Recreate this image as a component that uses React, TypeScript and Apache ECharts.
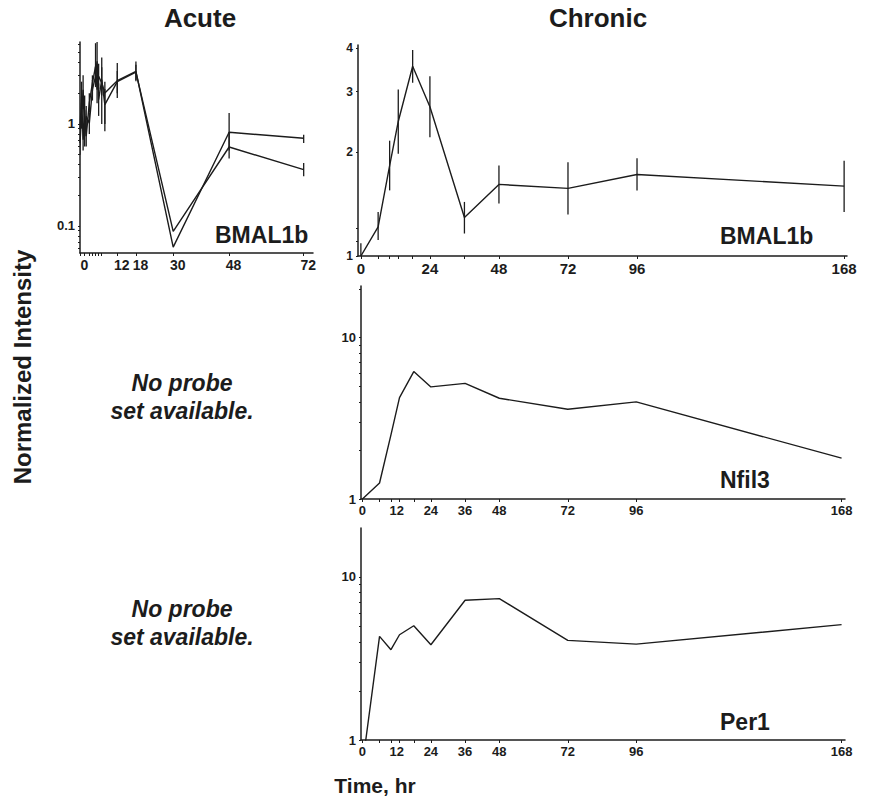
import React, { useEffect, useRef } from 'react';
import * as echarts from 'echarts';

const FONT = '"Liberation Sans", Arial, Helvetica, sans-serif';
const INK = '#1c1c1c';

// ---------- Acute BMAL1b (two probe sets) ----------
const acuteTimes = [0, 0.5, 1, 1.5, 2, 3, 4, 5, 5.5, 6, 7, 8, 12, 18, 30, 48, 72];
const acuteA = [0.88, 1.87, 0.7, 1.38, 0.76, 1.61, 2.52, 3.68, 2.17, 2.93, 2.52, 2.01, 2.66, 3.28, 0.062, 0.83, 0.724];
const acuteALow = [0.62, 1.3, 0.55, 1.0, 0.6, 1.3, 2.1, 3.0, 1.6, 2.2, 1.0, 0.85, 1.8, 2.62, null, 0.55, 0.651];
const acuteAHigh = [1.25, 2.6, 0.9, 1.9, 0.95, 2.0, 3.0, 6.2, 3.0, 3.9, 4.5, 2.6, 3.96, 4.11, null, 1.28, 0.786];
const acuteB = [0.65, 1.19, 2.17, 0.76, 1.19, 1.02, 2.17, 2.93, 4.11, 1.73, 2.72, 1.55, 2.6, 3.22, 0.0886, 0.595, 0.357];
const acuteBLow = [0.5, 0.9, 1.4, 0.6, 0.9, 0.8, 1.7, 2.3, 2.4, 1.2, 1.9, 1.0, 2.0, 2.7, null, 0.46, 0.307];
const acuteBHigh = [0.85, 1.6, 3.0, 0.95, 1.5, 1.3, 2.7, 3.6, 6.5, 2.5, 3.6, 2.2, 3.3, 3.8, null, 0.83, 0.415];
const acuteXLabels = [0, 12, 18, 30, 48, 72];
const acuteXTicks = [0, 1.5, 3, 4, 5, 6, 7, 12, 18, 30, 48, 72];
const acuteYLabels = [0.1, 1];
const acuteYTicks = [0.06, 0.07, 0.08, 0.09, 0.1, 0.2, 0.3, 0.4, 0.5, 0.6, 0.7, 0.8, 0.9, 1, 2, 3, 4, 5, 6];

// ---------- Chronic ----------
const chronicTimes = [0, 6, 10, 13, 18, 24, 36, 48, 72, 96, 168];
const bmalChronic = [1.0, 1.215, 1.83, 2.456, 3.55, 2.71, 1.293, 1.613, 1.571, 1.724, 1.595];
const bmalChronicLow = [0.995, 1.112, 1.55, 1.98, 3.18, 2.21, 1.162, 1.419, 1.319, 1.55, 1.342];
const bmalChronicHigh = [1.088, 1.342, 2.16, 3.04, 3.96, 3.32, 1.435, 1.83, 1.87, 1.92, 1.89];
const nfil3 = [1.0, 1.256, 2.5, 4.25, 6.16, 4.95, 5.21, 4.21, 3.6, 4.0, 1.79];
const per1 = [0.7, 4.32, 3.58, 4.42, 5.02, 3.84, 7.19, 7.36, 4.08, 3.87, 5.1];
const bmalChronicXLabels = [0, 24, 48, 72, 96, 168];
const chronicXLabels = [0, 12, 24, 36, 48, 72, 96, 168];
const bmalChronicYLabels = [1, 2, 3, 4];
const bmalChronicYTicks = [1, 1.1, 1.2, 2, 3, 4];
const decadeYLabels = [1, 10];
const decadeYTicks = [1, 2, 3, 4, 5, 6, 7, 8, 9, 10, 20];

const lg = (v: number) => Math.log10(v);
const fmtLog = (v: number) => String(Number(Math.pow(10, v).toPrecision(3)));

const lineData = (t: number[], v: number[]) => t.map((x, i) => [x, lg(v[i])]);
const errData = (t: number[], lo: (number | null)[], hi: (number | null)[]) =>
  t
    .map((x, i) => (lo[i] == null || hi[i] == null ? null : [x, lg(lo[i] as number), lg(hi[i] as number)]))
    .filter((d) => d !== null);

const errRender = (params: any, api: any) => {
  const x = api.value(0);
  const a = api.coord([x, api.value(1)]);
  const b = api.coord([x, api.value(2)]);
  return {
    type: 'line',
    shape: { x1: a[0], y1: a[1], x2: b[0], y2: b[1] },
    style: { stroke: INK, lineWidth: 1.3 },
  };
};

const labelStyle = (size: number) => ({ color: INK, fontFamily: FONT, fontWeight: 'bold' as const, fontSize: size });

function makeX(gridIndex: number, min: number, max: number, labels: number[], ticks: number[], size: number, extraLabel: any = {}) {
  return {
    type: 'value',
    gridIndex,
    min,
    max,
    axisLine: { show: true, onZero: false, lineStyle: { color: INK, width: 1.5 } },
    axisTick: { show: true, customValues: ticks, length: 3, lineStyle: { color: INK, width: 1 } },
    axisLabel: { customValues: labels, margin: 5, ...labelStyle(size), ...extraLabel },
    splitLine: { show: false },
  };
}

function makeY(gridIndex: number, min: number, max: number, labels: number[], ticks: number[], size: number) {
  return {
    type: 'value',
    gridIndex,
    min,
    max,
    axisLine: { show: true, onZero: false, lineStyle: { color: INK, width: 1.5 } },
    axisTick: { show: true, customValues: ticks.map(lg), length: 2, lineStyle: { color: INK, width: 1 } },
    axisLabel: { customValues: labels.map(lg), formatter: fmtLog, margin: 5, ...labelStyle(size) },
    splitLine: { show: false },
  };
}

const lineSeries = (xi: number, data: number[][]) => ({
  type: 'line',
  xAxisIndex: xi,
  yAxisIndex: xi,
  data,
  symbol: 'none',
  showSymbol: false,
  clip: true,
  lineStyle: { color: INK, width: 1.4 },
  silent: true,
});

const errSeries = (xi: number, data: any[]) => ({
  type: 'custom',
  xAxisIndex: xi,
  yAxisIndex: xi,
  data,
  encode: { x: 0, y: [1, 2] },
  renderItem: errRender,
  clip: true,
  silent: true,
});

const txt = (text: string, x: number, y: number, size: number, extra: any = {}, styleExtra: any = {}) => ({
  type: 'text',
  x,
  y,
  ...extra,
  style: {
    text,
    fill: INK,
    font: `bold ${size}px ${FONT}`,
    align: 'center',
    verticalAlign: 'middle',
    textAlign: 'center',
    textVerticalAlign: 'middle',
    ...styleExtra,
  },
});

const italic = (size: number) => ({ font: `italic bold ${size}px ${FONT}` });
const leftAlign = { align: 'left', textAlign: 'left' };

export default function App() {
  const ref = useRef<HTMLDivElement>(null);
  useEffect(() => {
    if (!ref.current) return;
    const chart = echarts.init(ref.current, null, { renderer: 'svg' });
    chart.setOption({
      animation: false,
      backgroundColor: '#ffffff',
      grid: [
        { left: 80, top: 42, width: 233, height: 211 },
        { left: 358, top: 45, width: 489, height: 211 },
        { left: 361, top: 286, width: 484, height: 213 },
        { left: 361, top: 528, width: 484, height: 212 },
      ],
      xAxis: [
        makeX(0, 0, 75, acuteXLabels, acuteXTicks, 14, { padding: [0, 0, 0, 9] }),
        makeX(1, -1, 169, bmalChronicXLabels, chronicTimes, 15),
        makeX(2, -0.5, 169.2, chronicXLabels, chronicTimes, 13),
        makeX(3, -0.5, 169.2, chronicXLabels, chronicTimes, 13),
      ],
      yAxis: [
        makeY(0, -1.265, 0.804, acuteYLabels, acuteYTicks, 13),
        makeY(1, 0, 0.612, bmalChronicYLabels, bmalChronicYTicks, 12),
        makeY(2, 0, 1.32, decadeYLabels, decadeYTicks, 13),
        makeY(3, 0, 1.3, decadeYLabels, decadeYTicks, 13),
      ],
      series: [
        lineSeries(0, lineData(acuteTimes, acuteA)),
        lineSeries(0, lineData(acuteTimes, acuteB)),
        errSeries(0, errData(acuteTimes, acuteALow, acuteAHigh)),
        errSeries(0, errData(acuteTimes, acuteBLow, acuteBHigh)),
        lineSeries(1, lineData(chronicTimes, bmalChronic)),
        errSeries(1, errData(chronicTimes, bmalChronicLow, bmalChronicHigh)),
        lineSeries(2, lineData(chronicTimes, nfil3)),
        lineSeries(3, lineData(chronicTimes, per1)),
      ],
      graphic: [
        txt('Acute', 200, 18, 26),
        txt('Chronic', 598, 18, 26),
        txt('Normalized Intensity', 22, 367, 24, { rotation: Math.PI / 2 }),
        txt('Time, hr', 375, 785, 21),
        txt('No probe', 182, 383, 23, {}, italic(23)),
        txt('set available.', 182, 411, 23, {}, italic(23)),
        txt('No probe', 182, 609, 23, {}, italic(23)),
        txt('set available.', 182, 637, 23, {}, italic(23)),
        txt('BMAL1b', 215, 235, 23, {}, leftAlign),
        txt('BMAL1b', 720, 236, 23, {}, leftAlign),
        txt('Nfil3', 720, 480, 23, {}, leftAlign),
        txt('Per1', 720, 722, 23, {}, leftAlign),
      ],
    });
    return () => chart.dispose();
  }, []);
  return (
    <div
      ref={ref}
      style={{ position: 'fixed', left: 0, top: 0, width: 881, height: 797, background: '#fff' }}
    />
  );
}
